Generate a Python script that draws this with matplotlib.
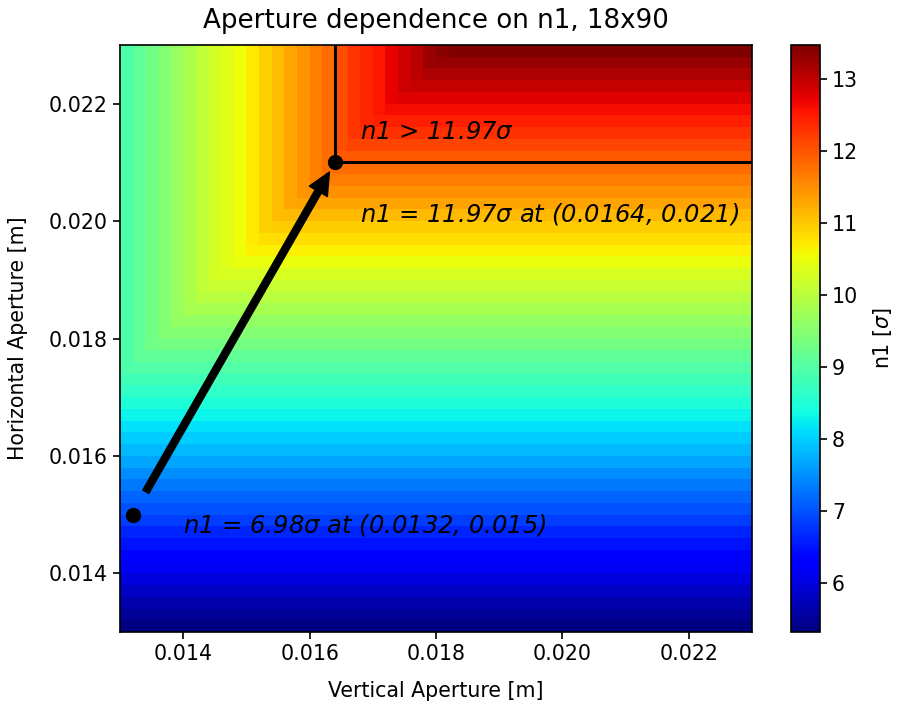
import numpy as np
import matplotlib
matplotlib.use('Agg')
import matplotlib.pyplot as plt

# grid of apertures [m], cells start at these values
vert_ap = np.round(np.arange(0.013, 0.02301, 0.0002), 4)   # x, 51 edges
horiz_ap = np.round(np.arange(0.013, 0.02301, 0.0002), 4)  # y, 51 edges

n1_vert = [8.93, 9.12, 9.27, 9.47, 9.67, 9.87, 10.07, 10.27, 10.41, 10.52,
           10.72, 10.94, 11.11, 11.28, 11.46, 11.63, 11.81, 12.06, 12.28, 12.41,
           12.54, 12.73, 12.91, 13.05, 13.26, 13.40, 13.58, 13.76, 13.94, 14.12,
           14.30, 14.48, 14.66, 14.84, 15.02, 15.20, 15.38, 15.56, 15.74, 15.92,
           16.10, 16.28, 16.46, 16.64, 16.82, 17.00, 17.18, 17.36, 17.54, 17.72]
# n1 [sigma] limited by the horizontal aperture
n1_horiz = [5.32, 5.49, 5.65, 5.82, 5.99, 6.15, 6.32, 6.48, 6.65, 6.82,
            6.98, 7.15, 7.32, 7.48, 7.65, 7.81, 7.98, 8.15, 8.31, 8.48,
            8.65, 8.81, 8.98, 9.14, 9.31, 9.48, 9.64, 9.81, 9.98, 10.14,
            10.31, 10.48, 10.64, 10.81, 10.97, 11.14, 11.31, 11.47, 11.64, 11.81,
            11.97, 12.14, 12.30, 12.47, 12.64, 12.80, 12.97, 13.14, 13.30, 13.47]

start = (0.0132, 0.015)
start_n1 = 6.98
target = (0.0164, 0.021)
target_n1 = 11.97

n1 = np.minimum.outer(np.array(n1_horiz), np.array(n1_vert))

fs = 14.8
fig = plt.figure(figsize=(8.97, 7.01), dpi=100)
ax = fig.add_axes([0.1338, 0.0984, 0.7046, 0.8374])
cax = fig.add_axes([0.8818, 0.0984, 0.0323, 0.8374])

mesh = ax.pcolormesh(vert_ap, horiz_ap, n1, cmap='jet', shading='flat')
cb = fig.colorbar(mesh, cax=cax)
cb.set_label(r'n1 [$\sigma$]', fontsize=fs, labelpad=9)
cb.ax.tick_params(labelsize=fs, length=5.2, width=1.2)
cb.outline.set_linewidth(1.2)

# region above target
ax.plot([target[0], target[0]], [target[1], horiz_ap[-1]], color='black', lw=2.2)
ax.plot([target[0], vert_ap[-1]], [target[1], target[1]], color='black', lw=2.2)
ax.plot(*start, 'ko', ms=10)
ax.plot(*target, 'ko', ms=10)
ax.annotate('', xy=target, xytext=start,
            arrowprops=dict(arrowstyle='simple,head_length=16,head_width=15,tail_width=5',
                            mutation_scale=1, facecolor='black', edgecolor='black',
                            shrinkA=19, shrinkB=8))

ax.text(target[0] + 0.0004, target[1] + 0.0004,
        r'n1 > %.2f$\sigma$' % target_n1, fontsize=17.5, style='italic')
ax.text(target[0] + 0.0004, target[1] - 0.001,
        r'n1 = %.2f$\sigma$ at (%s, %s)' % (target_n1, target[0], target[1]),
        fontsize=17.5, style='italic')
ax.text(start[0] + 0.0008, start[1] - 0.0003,
        r'n1 = %.2f$\sigma$ at (%s, %s)' % (start_n1, start[0], start[1]),
        fontsize=17.5, style='italic')

ax.set_xlim(0.013, 0.023)
ax.set_ylim(0.013, 0.023)
ax.set_xticks([0.014, 0.016, 0.018, 0.020, 0.022])
ax.set_yticks([0.014, 0.016, 0.018, 0.020, 0.022])
ax.tick_params(labelsize=fs, length=5.2, width=1.2)
for s in ax.spines.values():
    s.set_linewidth(1.2)
ax.set_xlabel('Vertical Aperture [m]', fontsize=fs, labelpad=12)
ax.set_ylabel('Horizontal Aperture [m]', fontsize=fs, labelpad=15)
ax.set_title('Aperture dependence on n1, 18x90', fontsize=18.8, pad=12)

fig.savefig('out.png', dpi=100)
